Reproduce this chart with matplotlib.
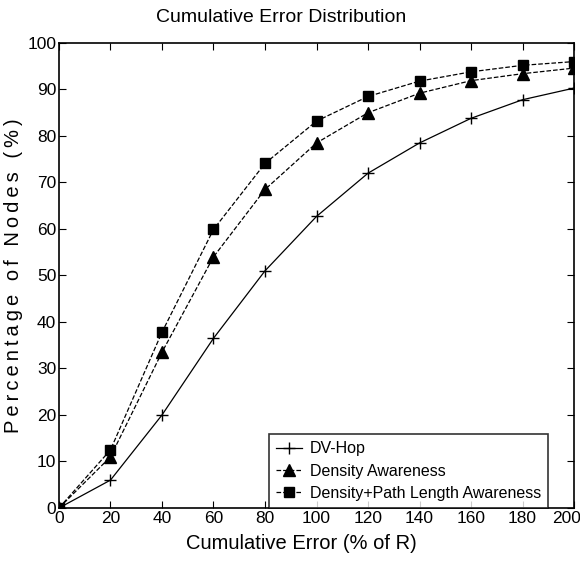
import matplotlib
matplotlib.use("Agg")
import matplotlib.pyplot as plt
from matplotlib.transforms import ScaledTranslation

plt.rcParams['font.family'] = ['Liberation Sans', 'DejaVu Sans']

x = [0, 20, 40, 60, 80, 100, 120, 140, 160, 180, 200]
dv_hop = [0, 6, 20, 36.5, 51, 62.7, 72, 78.5, 83.8, 87.8, 90.3]
density = [0, 11, 33.5, 54, 68.5, 78.5, 85, 89.2, 91.9, 93.4, 94.6]
density_path = [0, 12.5, 37.8, 59.9, 74.1, 83.2, 88.5, 91.8, 93.8, 95.2, 96.0]
xticks = [0, 20, 40, 60, 80, 100, 120, 140, 160, 180, 200]
yticks = [0, 10, 20, 30, 40, 50, 60, 70, 80, 90, 100]

fig = plt.figure(figsize=(5.8, 5.65), dpi=100)
ax = fig.add_axes([0.1017, 0.1009, 0.888, 0.823])

ax.plot(x, dv_hop, 'k-', marker='+', markersize=9, lw=0.9, label='DV-Hop')
ax.plot(x, density, 'k--', marker='^', markersize=8, lw=0.9, label='Density Awareness')
ax.plot(x, density_path, 'k--', marker='s', markersize=7, lw=0.9, label='Density+Path Length Awareness')

ax.set_xlim(0, 200)
ax.set_ylim(0, 100)
ax.set_xticks(xticks)
ax.set_yticks(yticks)
ax.tick_params(direction='in', top=True, right=True, labelsize=12.5, length=5, pad=2)
for s in ax.spines.values():
    s.set_linewidth(1.2)

# keep the last x tick label inside the figure
fig.canvas.draw()
last = ax.get_xticklabels()[-1]
last.set_transform(last.get_transform() + ScaledTranslation(-7 / 100, 0, fig.dpi_scale_trans))

fig.text(281 / 580, 1 - 18 / 565, 'Cumulative Error Distribution', fontsize=14,
         ha='center', va='center')
ax.set_xlabel('Cumulative Error (% of R)', fontsize=14.5)
ax.xaxis.set_label_coords((301 - 59) / 515, -0.055)
thin = '\u2009'
ax.set_ylabel(thin.join('Percentage of Nodes (%)'), fontsize=14.5, labelpad=3)

leg = ax.legend(loc='lower right', bbox_to_anchor=(0.95, 0.0), fontsize=11.5, frameon=True,
                fancybox=False, edgecolor='black', borderpad=0.45, labelspacing=0.45,
                handlelength=1.6, handletextpad=0.5, borderaxespad=0)
leg.get_frame().set_linewidth(1.2)

fig.savefig('out.png', dpi=100)
